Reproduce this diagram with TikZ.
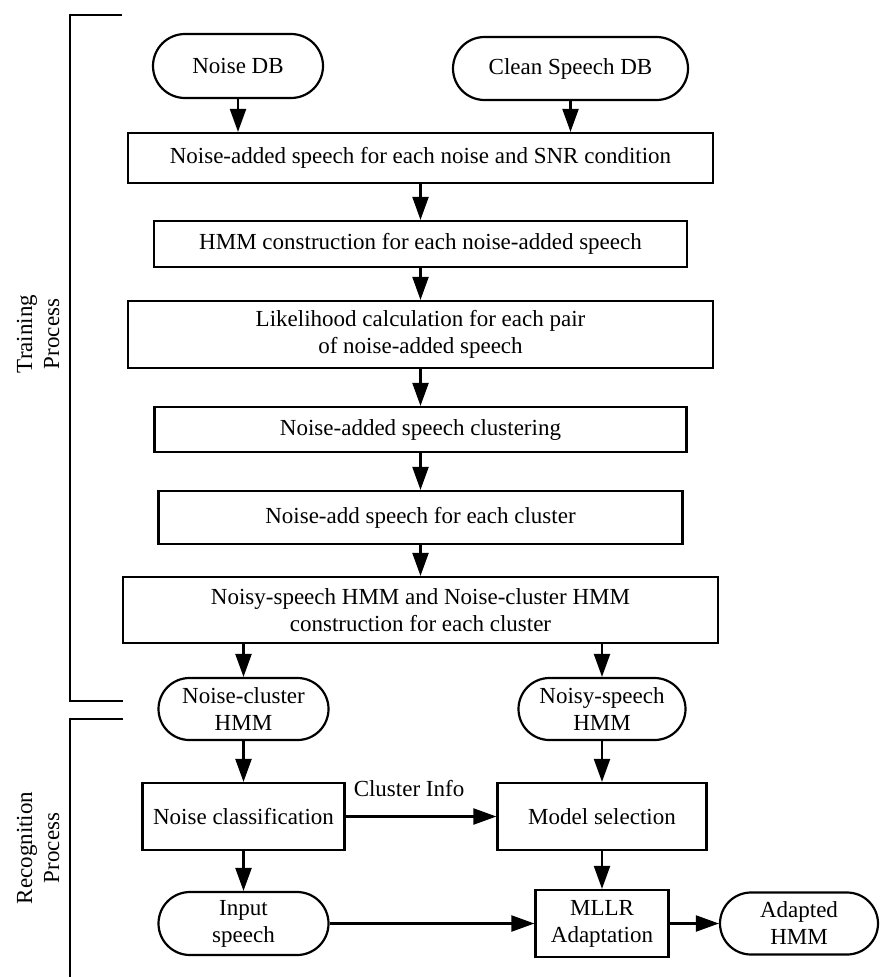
\documentclass[tikz,border=0pt]{standalone}
\usepackage{fontspec}
\setmainfont{Liberation Serif}
\usetikzlibrary{arrows.meta,shapes.misc}
\begin{document}
\begin{tikzpicture}[x=1pt,y=-1pt,
  every node/.style={font=\fontsize{23}{27}\selectfont, inner sep=0pt, align=center},
  procbox/.style={draw, line width=2.2pt, rectangle},
  termbox/.style={draw, line width=2.2pt, rounded rectangle},
  flow/.style={line width=2.2pt, -{Triangle[length=23pt,width=16pt]}},
  bracket/.style={line width=2.6pt}
]
\useasboundingbox (0,0) rectangle (881,977);
\fill[white] (0,0) rectangle (881,977);

% databases
\node[termbox, minimum width=170pt, minimum height=64pt] (ndb) at (238,66) {Noise DB};
\node[termbox, minimum width=235pt, minimum height=63pt] (cdb) at (570.5,68.5) {Clean Speech DB};

% training steps
\node[procbox, minimum width=585pt, minimum height=50pt] (b1) at (420.5,158) {Noise-added speech for each noise and SNR condition};
\node[procbox, minimum width=533pt, minimum height=46pt] (b2) at (420.5,244) {HMM construction for each noise-added speech};
\node[procbox, minimum width=585pt, minimum height=67pt] (b3) at (420.5,334.5) {Likelihood calculation for each pair\\of noise-added speech};
\node[procbox, minimum width=532pt, minimum height=45pt] (b4) at (420.5,429.5) {Noise-added speech clustering};
\node[procbox, minimum width=524pt, minimum height=53pt] (b5) at (420.5,517.5) {Noise-add speech for each cluster};
\node[procbox, minimum width=595pt, minimum height=66pt] (b6) at (420.5,610) {Noisy-speech HMM and Noise-cluster HMM\\construction for each cluster};

% models
\node[termbox, minimum width=170pt, minimum height=62pt] (nch) at (243.5,709) {Noise-cluster\\HMM};
\node[termbox, minimum width=167pt, minimum height=62pt] (nsh) at (602,709) {Noisy-speech\\HMM};

% recognition steps
\node[procbox, minimum width=202pt, minimum height=67pt] (ncl) at (243.5,816.5) {Noise classification};
\node[procbox, minimum width=209pt, minimum height=67pt] (msel) at (602,816.5) {Model selection};
\node[termbox, minimum width=170pt, minimum height=63pt] (inp) at (243.5,923.5) {Input\\speech};
\node[procbox, minimum width=133pt, minimum height=67pt] (mllr) at (602,923.5) {MLLR\\Adaptation};
\node[termbox, minimum width=158pt, minimum height=62pt] (ahmm) at (799,923.5) {Adapted\\HMM};
\node (cinfo) at (409,789) {Cluster Info};

% connectors
\draw[flow] (ndb.south) -- (ndb.south |- b1.north);
\draw[flow] (cdb.south) -- (cdb.south |- b1.north);
\draw[flow] (b1.south) -- (b2.north);
\draw[flow] (b2.south) -- (b3.north);
\draw[flow] (b3.south) -- (b4.north);
\draw[flow] (b4.south) -- (b5.north);
\draw[flow] (b5.south) -- (b6.north);
\draw[flow] (nch.north |- b6.south) -- (nch.north);
\draw[flow] (nsh.north |- b6.south) -- (nsh.north);
\draw[flow] (nch.south) -- (ncl.north);
\draw[flow] (nsh.south) -- (msel.north);
\draw[flow] (ncl.south) -- (inp.north);
\draw[flow] (msel.south) -- (mllr.north);
\draw[flow] (ncl.east) -- (msel.west);
\draw[flow] (inp.east) -- (mllr.west);
\draw[flow] (mllr.east) -- (ahmm.west);

% process brackets
\coordinate (tTop) at (122,15);
\coordinate (tBot) at (123,701);
\coordinate (rTop) at (123,719);
\coordinate (rBot) at (70,977);
\draw[bracket] (tTop) -- (70,15) -- (70,701) -- (tBot);
\draw[bracket] (rTop) -- (70,719) -- (rBot);
\node[rotate=90] (tlab) at (38,334) {Training\\Process};
\node[rotate=90] (rlab) at (38,848) {Recognition\\Process};
\end{tikzpicture}
\end{document}
